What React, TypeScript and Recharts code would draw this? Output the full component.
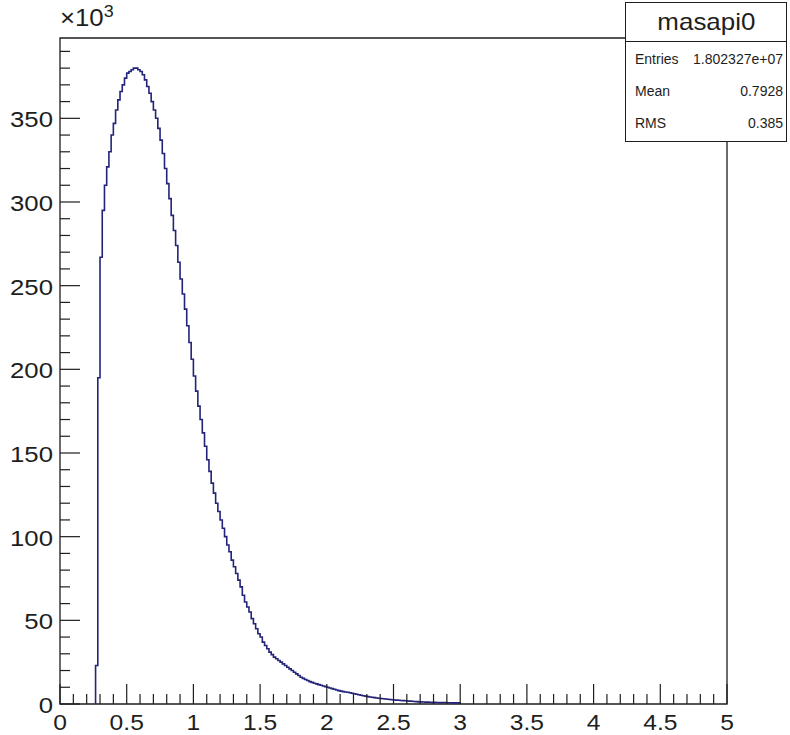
import { ComposedChart, Line, XAxis, YAxis, ReferenceArea } from "recharts";

// histogram "masapi0": 300 bins on [0, 5], counts in units of 10^3
const BINS_PER_UNIT = 60;
const FIRST_BIN = 16;
const counts = [
  23, 195, 267, 295, 310, 321, 330, 340, 347, 355,
  361, 366, 370, 374, 377, 378, 379, 380, 380, 379,
  378, 376, 373, 369, 365, 360, 355, 350, 344, 337,
  329, 320, 311, 302, 292, 283, 274, 264, 254, 245,
  236, 226, 216, 206, 196, 187, 178, 170, 162, 154,
  146, 139, 132, 126, 120, 115, 110, 105, 100, 95,
  91, 86, 82, 78, 74, 70, 65, 61, 58, 55,
  51, 48, 45, 42, 40, 37, 35, 33, 31, 29.5,
  28, 27, 26, 25, 24, 23, 22, 21, 20, 19,
  18, 17, 16, 15.3, 14.6, 14, 13.4, 12.9, 12.4, 12,
  11.6, 11.2, 10.8, 10.4, 10, 9.6, 9.2, 8.8, 8.4, 8,
  7.7, 7.4, 7.2, 7, 6.7, 6.4, 6.1, 5.8, 5.5, 5.2,
  4.9, 4.7, 4.4, 4.2, 4, 3.8, 3.6, 3.4, 3.3, 3.1,
  3.0, 2.8, 2.7, 2.5, 2.4, 2.3, 2.2, 2.1, 2.0, 1.9,
  1.8, 1.7, 1.6, 1.5, 1.4, 1.3, 1.25, 1.2, 1.15, 1.1,
  1.05, 1.0, 0.95, 0.9, 0.9, 0.85, 0.8, 0.8, 0.75, 0.75,
  0.7, 0.7, 0.7, 0.65,
];

const xTicks = [
  0, 0.1, 0.2, 0.3, 0.4, 0.5, 0.6, 0.7, 0.8, 0.9,
  1, 1.1, 1.2, 1.3, 1.4, 1.5, 1.6, 1.7, 1.8, 1.9,
  2, 2.1, 2.2, 2.3, 2.4, 2.5, 2.6, 2.7, 2.8, 2.9,
  3, 3.1, 3.2, 3.3, 3.4, 3.5, 3.6, 3.7, 3.8, 3.9,
  4, 4.1, 4.2, 4.3, 4.4, 4.5, 4.6, 4.7, 4.8, 4.9, 5,
];
const yTicks = [
  0, 10, 20, 30, 40, 50, 60, 70, 80, 90,
  100, 110, 120, 130, 140, 150, 160, 170, 180, 190,
  200, 210, 220, 230, 240, 250, 260, 270, 280, 290,
  300, 310, 320, 330, 340, 350, 360, 370, 380, 390,
];
const Y_MAX = 398;

const stats = [
  { label: "Entries", value: "1.802327e+07" },
  { label: "Mean", value: "0.7928" },
  { label: "RMS", value: "0.385" },
];

const data = [
  { x: FIRST_BIN / BINS_PER_UNIT, count: 0 },
  ...counts.map((c, i) => ({ x: (FIRST_BIN + i) / BINS_PER_UNIT, count: c })),
  { x: (FIRST_BIN + counts.length) / BINS_PER_UNIT, count: 0 },
];

const INK = "#1e1e1e";
const LINE = "#23237a";
const FONT = "'Liberation Sans', Arial, Helvetica, sans-serif";
const LEFT = 60;
const BOTTOM = 704;
const STRETCH = 1.12; // labels in the original are a bit wide

const isMajor = (v: number, step: number) => Math.abs(v / step - Math.round(v / step)) < 1e-6;

const XTick = ({ x, payload }: any) => {
  const v = payload.value;
  const major = isMajor(v, 0.5);
  return (
    <g>
      <line x1={x} x2={x} y1={BOTTOM} y2={BOTTOM - (major ? 20 : 10)} stroke={INK} strokeWidth={1.2} />
      {major && (
        <text
          transform={`translate(${x},${BOTTOM + 26}) scale(${STRETCH},1)`}
          textAnchor="middle"
          fontSize={22}
          fontFamily={FONT}
          fill={INK}
        >
          {v}
        </text>
      )}
    </g>
  );
};

const YTick = ({ y, payload }: any) => {
  const v = payload.value;
  const major = isMajor(v, 50);
  return (
    <g>
      <line x1={LEFT} x2={LEFT + (major ? 20 : 10)} y1={y} y2={y} stroke={INK} strokeWidth={1.2} />
      {major && (
        <text
          transform={`translate(${LEFT - 7},${y + 9}) scale(${STRETCH},1)`}
          textAnchor="end"
          fontSize={23}
          fontFamily={FONT}
          fill={INK}
        >
          {v}
        </text>
      )}
    </g>
  );
};

export default function App() {
  return (
    <div style={{ position: "absolute", left: 0, top: 0, width: 790, height: 735, background: "#fff", fontFamily: FONT }}>
      <ComposedChart width={790} height={735} data={data} margin={{ top: 38, right: 63, bottom: 0, left: 0 }}>
        <XAxis
          dataKey="x"
          type="number"
          domain={[0, 5]}
          ticks={xTicks}
          interval={0}
          height={31}
          tick={<XTick />}
          tickLine={false}
          axisLine={false}
        />
        <YAxis
          type="number"
          domain={[0, Y_MAX]}
          ticks={yTicks}
          interval={0}
          width={60}
          tick={<YTick />}
          tickLine={false}
          axisLine={false}
          allowDataOverflow
        />
        <ReferenceArea x1={0} x2={5} y1={0} y2={Y_MAX} fill="none" stroke={INK} strokeWidth={1.3} ifOverflow="visible" />
        <Line
          type="stepAfter"
          dataKey="count"
          stroke={LINE}
          strokeWidth={1.6}
          dot={false}
          isAnimationActive={false}
        />
      </ComposedChart>

      <div style={{ position: "absolute", left: 60, top: 5, fontSize: 23, color: INK, lineHeight: "26px", transform: `scaleX(${STRETCH})`, transformOrigin: "left" }}>
        ×10<sup style={{ fontSize: 16, verticalAlign: "top", position: "relative", top: -6 }}>3</sup>
      </div>

      <div
        style={{
          position: "absolute",
          left: 625,
          top: 2,
          width: 160,
          height: 138,
          border: `1.3px solid ${INK}`,
          background: "#fff",
          color: INK,
        }}
      >
        <div style={{ height: 38, borderBottom: `1.3px solid ${INK}`, textAlign: "center", fontSize: 24, lineHeight: "38px" }}>
          <span style={{ display: "inline-block", transform: "scaleX(1.08)" }}>masapi0</span>
        </div>
        {stats.map((s) => (
          <div key={s.label} style={{ display: "flex", justifyContent: "space-between", padding: "0 3px 0 9px", height: 32, lineHeight: "34px", fontSize: 14 }}>
            <span>{s.label}</span>
            <span>{s.value}</span>
          </div>
        ))}
      </div>
    </div>
  );
}
